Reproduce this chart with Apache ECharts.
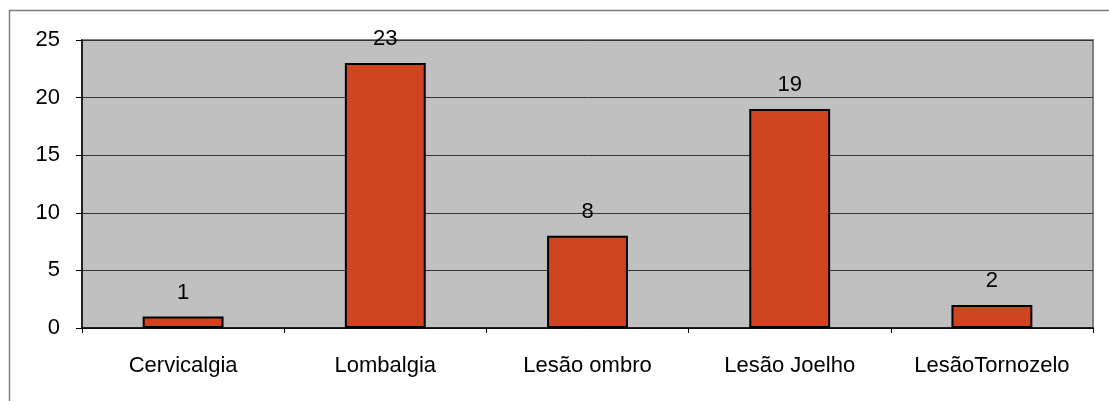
<!DOCTYPE html>
<html><head><meta charset="utf-8">
<script src="https://cdn.jsdelivr.net/npm/echarts@6/dist/echarts.min.js"></script>
<style>html,body{margin:0;padding:0;background:#fff}#c{width:1109px;height:401px}</style>
</head><body><div id="c"></div>
<script>
const categories = ['Cervicalgia','Lombalgia','Lesão ombro','Lesão Joelho','LesãoTornozelo'];
const values = [1, 23, 8, 19, 2];
const yTicks = [0, 5, 10, 15, 20, 25];

const chart = echarts.init(document.getElementById('c'), null, {renderer:'canvas'});
const font = 'Liberation Sans';
chart.setOption({
  animation:false,
  textStyle:{fontFamily:font},
  graphic:[{type:'rect', shape:{x:9.5,y:10.5,width:1200,height:500}, style:{fill:'none',stroke:'#7f7f7f',lineWidth:1.5}, silent:true, z:-10}],
  grid:{left:82,right:16,top:40,bottom:73,show:true,backgroundColor:'#C0C0C0',borderColor:'#808080',borderWidth:2},
  xAxis:{type:'category',data:categories,
    axisLine:{lineStyle:{color:'#000',width:1.5}},
    axisTick:{show:true,length:5,lineStyle:{color:'#000'}},
    axisLabel:{color:'#000',fontSize:22,fontFamily:font,margin:27,interval:0}},
  yAxis:{type:'value',min:yTicks[0],max:yTicks[yTicks.length-1],interval:5,
    axisLine:{show:true,lineStyle:{color:'#000',width:1.5}},
    axisTick:{show:true,length:6,lineStyle:{color:'#000'}},
    axisLabel:{color:'#000',fontSize:22,fontFamily:font,margin:22},
    splitLine:{show:true,lineStyle:{color:'#333',width:1}}},
  series:[{type:'bar',data:values,barWidth:'40%',
    itemStyle:{color:'#CE4520',borderColor:'#000',borderWidth:2},
    label:{show:true,position:'top',distance:13,color:'#000',fontSize:22,fontFamily:font}}]
});
</script></body></html>
